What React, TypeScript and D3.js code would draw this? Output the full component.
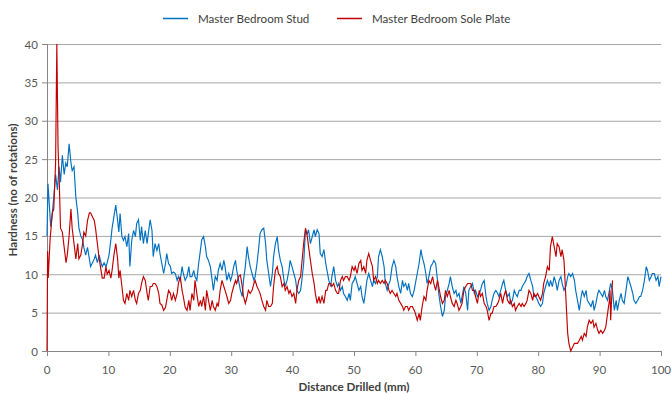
import React from "react";
import * as d3 from "d3";

const seriesNames = ["Master Bedroom Stud", "Master Bedroom Sole Plate"];
const xTicks = [0, 10, 20, 30, 40, 50, 60, 70, 80, 90, 100];
const yTicks = [0, 5, 10, 15, 20, 25, 30, 35, 40];

// [distance mm, hardness]
const studData: [number, number][] = [
  [0,15],[0.16,21.8],[0.6,16.2],[0.87,18],[1.1,20],[1.4,23],[1.7,21],[1.96,24],[2.2,22],[2.5,25.5],[2.8,23],[3.05,24.5],[3.3,24],[3.6,27],[3.9,24.5],[4.1,23.5],[4.4,24],[4.7,20],[5.0,18],[5.2,16],[5.5,15],[5.8,14.5],[6.0,13.5],[6.3,12.5],[6.6,13.5],[6.9,12],[7.1,11],[7.4,11.5],[7.7,12],[7.9,12.5],[8.2,11.5],[8.5,12.5],[8.8,11.5],[9.0,11],[9.3,11.5],[9.6,11],[9.8,11.5],[10.1,12.5],[10.4,14.5],[10.6,16],[10.9,17.5],[11.2,19],[11.5,17],[11.7,15.5],
  [11.9,17.9],[12.2,14.9],[12.45,14.4],[12.7,14.9],[13.0,13.6],[13.3,15.3],[13.5,11],[13.8,14.4],[14.1,15.7],[14.4,14.9],[14.6,16.6],[14.9,17.1],[15.2,14.4],[15.4,16.2],[15.7,14],[16.0,15.7],[16.3,14],[16.5,15.3],[16.8,17.1],[17.1,15.7],[17.3,12.3],[17.6,14],[17.9,13.1],[18.2,14],[18.4,12.7],[18.7,11.4],[19.0,10.1],[19.3,11.4],[19.5,12.7],[19.8,11.4],[20.1,11],[20.3,10.1],[20.6,10.3],[20.9,10.1],[21.2,9.2],[21.4,9.7],[21.7,9.2],[22.0,11],[22.2,10.1],[22.5,9.2],[22.8,9.7],[23.1,11],[23.3,9.7],[23.6,9.7],[23.9,10.5],
  [24.1,9.7],[24.4,9.2],[24.7,11.4],[25.0,13.2],[25.2,14.5],[25.5,14.9],[25.8,13.6],[26.0,12.3],[26.3,11.8],[26.6,11.0],[26.9,9.2],[27.1,7.9],[27.4,9.7],[27.7,9.2],[27.9,10.5],[28.2,11.4],[28.5,10.5],[28.8,11.8],[29.0,11.0],[29.3,9.2],[29.6,10.1],[29.9,9.2],[30.1,9.7],[30.4,11.0],[30.7,11.8],[30.9,10.5],[31.2,9.2],[31.5,7.9],[31.8,7.1],[32.0,9.2],[32.3,11.0],[32.6,13.6],[32.8,12.3],[33.1,11.0],[33.4,10.1],[33.7,9.2],[33.9,9.7],[34.2,11.4],[34.5,13.6],[34.7,15.3],[35.0,15.8],[35.3,16.0],[35.6,14.0],[35.8,11.8],[36.1,10.1],
  [36.4,8.4],[36.7,10.1],[36.9,12.3],[37.2,14.0],[37.5,14.9],[37.7,13.2],[38.0,11.8],[38.3,11.0],[38.6,9.2],[38.8,8.4],[39.1,9.2],[39.4,10.5],[39.6,11.8],[39.9,11.0],[40.2,10.1],[40.5,9.2],[40.7,7.9],[41.0,7.5],[41.3,7.9],[41.5,9.2],[41.8,11.4],[42.1,15.8],[42.4,15.3],[42.6,15.8],[42.9,14.0],[43.2,14.9],[43.5,15.8],[43.7,14.9],[44.0,15.8],[44.3,15.3],[44.5,12.7],[44.8,12.3],[45.1,13.2],[45.4,11.4],[45.6,10.5],[45.9,9.2],[46.2,8.4],[46.4,9.7],[46.7,11.0],[47.0,9.2],[47.3,8.4],[47.5,8.8],[47.8,7.9],[48.1,8.4],[48.3,7.5],
  [48.6,7.1],[48.9,6.6],[49.2,7.5],[49.4,6.6],[49.7,8.8],[50.0,9.2],[50.2,9.7],[50.5,8.8],[50.8,7.9],[51.1,8.4],[51.3,7.1],[51.6,6.2],[51.9,7.9],[52.1,9.2],[52.4,10.1],[52.7,9.2],[53.0,8.4],[53.2,9.2],[53.5,8.8],[53.8,9.7],[54.0,12.3],[54.3,13.2],[54.6,12.3],[54.9,11.0],[55.1,8.8],[55.4,7.9],[55.7,8.8],[55.9,9.2],[56.2,11.0],[56.5,11.8],[56.8,11.0],[57.0,9.7],[57.3,8.4],[57.6,7.5],[57.9,9.2],[58.1,8.4],[58.4,8.8],[58.7,7.9],[58.9,8.8],[59.2,7.5],[59.5,7.1],[59.8,7.9],[60.0,8.8],[60.3,10.1],[60.6,11.4],
  [60.9,13.2],[61.1,12.3],[61.4,11.4],[61.7,10.1],[61.9,8.8],[62.2,9.7],[62.5,11.0],[62.8,11.4],[63.0,11.8],[63.3,11.4],[63.6,9.2],[63.8,7.5],[64.1,5.8],[64.4,4.5],[64.7,5.3],[64.9,7.1],[65.2,7.9],[65.5,8.8],[65.7,9.7],[66.0,8.4],[66.3,7.5],[66.6,7.9],[66.8,7.1],[67.1,7.5],[67.4,6.2],[67.6,7.1],[67.9,8.4],[68.2,7.5],[68.5,5.3],[68.7,7.9],[69.0,8.4],[69.3,8.8],[69.6,7.5],[69.8,7.9],[70.1,7.1],[70.4,7.5],[70.6,7.9],[70.9,8.8],[71.2,9.2],[71.5,7.1],[71.7,6.2],[72.0,5.3],[72.3,5.8],[72.5,6.6],[72.8,7.5],
  [73.1,7.9],[73.4,7.5],[73.6,7.1],[73.9,7.9],[74.2,8.8],[74.4,9.2],[74.7,7.9],[75.0,7.1],[75.3,7.5],[75.5,6.2],[75.8,6.6],[76.1,7.9],[76.3,7.5],[76.6,7.1],[76.9,7.9],[77.2,7.9],[77.4,8.4],[77.7,8.8],[78.0,9.2],[78.2,9.7],[78.5,10.1],[78.8,9.2],[79.1,8.4],[79.3,7.1],[79.6,7.1],[79.9,6.6],[80.1,6.2],[80.4,5.8],[80.7,6.2],[80.9,7.5],[81.2,8.4],[81.5,9.2],[81.8,8.4],[82.0,9.2],[82.3,8.4],[82.6,9.7],[82.9,8.8],[83.1,7.9],[83.4,9.2],[83.7,9.7],[83.9,8.8],[84.2,7.9],[84.5,8.4],[84.8,9.7],[85.0,10.1],
  [85.3,9.7],[85.6,10.1],[85.9,9.2],[86.1,7.9],[86.4,6.6],[86.7,5.3],[87.0,7.1],[87.2,7.9],[87.5,7.1],[87.8,7.9],[88.0,6.6],[88.3,6.2],[88.6,5.8],[88.9,6.6],[89.1,5.3],[89.4,6.2],[89.7,7.5],[89.9,7.9],[90.2,7.5],[90.5,7.1],[90.8,7.9],[91.0,7.1],[91.3,6.6],[91.6,7.9],[91.8,8.8],[92.1,7.9],[92.4,5.3],[92.7,6.6],[92.9,5.3],[93.2,6.6],[93.5,7.5],[93.7,6.6],[94.0,6.2],[94.3,7.9],[94.6,9.7],[94.8,9.2],[95.1,8.4],[95.4,7.5],[95.6,6.6],[95.9,6.2],[96.2,6.6],[96.5,7.1],[96.7,7.1],[97.0,7.9],[97.3,9.2],[97.6,11.0],[97.8,10.5],[98.1,9.2],[98.4,9.7],[98.6,10.1],[98.9,10.1],[99.2,9.2],[99.5,9.7],[99.7,8.4],[100,9.7]
];

const plateData: [number, number][] = [
  [0,0],[0.1,13],[0.2,9.5],[0.35,12],[0.5,14.5],[0.87,18],[1.1,18.5],[1.4,24.5],[1.6,40],[1.8,26.5],[2.0,22],[2.2,16],[2.5,15.5],[2.8,13.5],[3.1,11.5],[3.3,12.5],[3.6,15],[3.9,18.5],[4.1,16],[4.4,14],[4.7,12],[5.0,14],[5.2,12],[5.5,12.5],[5.8,14],[6.0,15.5],[6.3,15],[6.6,17],[6.9,18],[7.1,18],[7.4,17.5],[7.7,17],[7.9,16],[8.2,14],[8.5,12],[8.8,10.5],[9.0,9.5],[9.3,9.5],[9.6,11],[9.8,10],[10.1,10.5],[10.4,9.5],[10.6,10.5],[10.9,12.5],[11.2,14],[11.5,12],[11.7,9.5],
  [11.9,10.5],[12.2,8.4],[12.45,6.6],[12.7,6.2],[13.0,7.5],[13.3,6.6],[13.5,7.9],[13.8,7.1],[14.1,7.9],[14.4,6.6],[14.6,6.2],[14.9,7.5],[15.2,7.9],[15.4,8.8],[15.7,9.7],[16.0,9.2],[16.3,7.5],[16.5,6.6],[16.8,8.4],[17.1,8.4],[17.3,8.8],[17.6,8.8],[17.9,8.4],[18.2,7.5],[18.4,6.2],[18.7,6.0],[19.0,5.3],[19.3,5.7],[19.5,6.6],[19.8,7.9],[20.1,7.5],[20.3,6.6],[20.6,7.5],[20.9,6.6],[21.2,7.5],[21.4,8.8],[21.7,9.7],[22.0,7.9],[22.2,7.1],[22.5,5.7],[22.8,5.3],[23.1,6.6],[23.3,5.3],[23.6,7.5],[23.9,6.6],
  [24.1,9.2],[24.4,7.5],[24.7,5.8],[25.0,6.6],[25.2,5.8],[25.5,7.1],[25.8,5.3],[26.0,7.9],[26.3,6.6],[26.6,5.3],[26.9,6.6],[27.1,5.8],[27.4,5.3],[27.7,6.2],[27.9,5.8],[28.2,7.9],[28.5,9.2],[28.8,8.4],[29.0,7.9],[29.3,7.1],[29.6,6.2],[29.9,6.6],[30.1,7.5],[30.4,8.4],[30.7,9.2],[30.9,8.8],[31.2,9.7],[31.5,9.9],[31.8,8.4],[32.0,7.1],[32.3,6.2],[32.6,7.1],[32.8,7.9],[33.1,7.5],[33.4,7.9],[33.7,8.8],[33.9,9.2],[34.2,8.4],[34.5,7.9],[34.7,7.5],[35.0,6.6],[35.3,5.8],[35.6,5.3],[35.8,6.6],[36.1,5.8],
  [36.4,5.8],[36.7,6.2],[36.9,8.4],[37.2,10.5],[37.5,11.0],[37.7,10.1],[38.0,9.7],[38.3,8.4],[38.6,8.8],[38.8,7.9],[39.1,8.4],[39.4,7.5],[39.6,7.9],[39.9,7.1],[40.2,7.5],[40.5,6.2],[40.7,7.9],[41.0,9.2],[41.3,9.7],[41.5,11.4],[41.8,14.0],[42.1,16.0],[42.4,14.9],[42.6,13.6],[42.9,11.8],[43.2,10.1],[43.5,8.8],[43.7,7.5],[44.0,6.2],[44.3,7.1],[44.5,6.2],[44.8,7.1],[45.1,6.2],[45.4,7.9],[45.6,7.9],[45.9,8.8],[46.2,8.8],[46.4,8.4],[46.7,8.8],[47.0,7.9],[47.3,7.5],[47.5,7.5],[47.8,9.2],[48.1,9.7],[48.3,9.2],
  [48.6,9.7],[48.9,9.7],[49.2,9.2],[49.4,9.7],[49.7,11.0],[50.0,10.5],[50.2,11.0],[50.5,10.1],[50.8,11.4],[51.1,11.8],[51.3,10.5],[51.6,11.0],[51.9,10.1],[52.1,11.8],[52.4,12.7],[52.7,11.8],[53.0,11.0],[53.2,9.2],[53.5,9.7],[53.8,8.8],[54.0,9.2],[54.3,8.8],[54.6,9.2],[54.9,8.8],[55.1,9.2],[55.4,8.8],[55.7,7.9],[55.9,7.5],[56.2,7.9],[56.5,7.5],[56.8,7.1],[57.0,7.5],[57.3,6.6],[57.6,6.2],[57.9,5.8],[58.1,5.3],[58.4,5.8],[58.7,5.8],[58.9,5.3],[59.2,5.8],[59.5,5.8],[59.8,5.3],[60.0,4.9],[60.3,4.0],[60.6,4.9],[60.8,4.0],
  [61.1,5.8],[61.4,7.1],[61.7,6.6],[61.9,7.9],[62.2,9.2],[62.5,8.8],[62.8,9.7],[63.0,8.8],[63.3,7.9],[63.6,9.2],[63.8,8.4],[64.1,7.1],[64.4,6.2],[64.7,6.6],[64.9,7.9],[65.2,7.1],[65.5,7.9],[65.7,7.1],[66.0,6.2],[66.3,5.8],[66.6,6.6],[66.8,6.2],[67.1,5.3],[67.4,5.8],[67.6,6.2],[67.9,7.9],[68.2,8.4],[68.5,8.8],[68.7,8.8],[69.0,8.8],[69.3,7.9],[69.6,7.9],[69.8,7.1],[70.1,6.2],[70.4,7.9],[70.6,7.1],[70.9,7.5],[71.2,6.2],[71.5,5.8],[71.7,5.3],[72.0,4.0],[72.3,4.9],[72.5,4.9],[72.8,5.8],
  [73.1,5.8],[73.4,6.2],[73.6,6.6],[73.9,7.5],[74.2,6.2],[74.4,7.1],[74.7,7.9],[75.0,6.6],[75.3,6.2],[75.5,6.6],[75.8,5.8],[76.1,6.2],[76.3,5.3],[76.6,5.8],[76.9,6.2],[77.2,5.8],[77.4,6.2],[77.7,5.8],[78.0,6.2],[78.2,6.6],[78.5,7.9],[78.8,7.5],[79.1,6.6],[79.3,7.5],[79.6,7.1],[79.9,7.5],[80.1,7.1],[80.4,6.6],[80.7,7.5],[80.9,8.8],[81.2,9.7],[81.5,11.0],[81.8,10.5],[82.0,13.6],[82.3,14.9],[82.6,13.6],[82.9,12.3],[83.1,14.0],[83.4,13.6],[83.7,12.3],[83.9,13.2],[84.2,11.8],[84.5,7.1],[84.8,2.3],[85.0,1.0],
  [85.3,0],[85.6,0.5],[85.9,1.0],[86.1,1.0],[86.4,1.0],[86.7,1.4],[87.0,1.9],[87.2,1.4],[87.5,2.3],[87.8,1.9],[88.0,3.1],[88.3,4.0],[88.6,3.6],[88.9,4.0],[89.1,3.1],[89.4,3.6],[89.7,2.7],[89.9,2.3],[90.2,2.7],[90.5,2.3],[90.8,2.7],[91.0,3.1],[91.3,4.9],[91.6,6.6],[91.7,7.9],[91.8,4.0],[92.1,9.2]
];

const colors = ["#0070C0", "#C00000"];

const W = 671, H = 394;
const M = { left: 47, right: 661, top: 44, bottom: 351 };

export default function App() {
  const x = d3.scaleLinear().domain([0, 100]).range([M.left, M.right]);
  const y = d3.scaleLinear().domain([0, 40]).range([M.bottom, M.top]);
  const line = d3.line<[number, number]>().x(d => x(d[0])).y(d => y(d[1]));
  const font = "Lato, 'Open Sans', sans-serif";
  const series = [studData, plateData];
  const legendX = [163, 337];
  const fs = 11.6;

  return (
    <svg width={W} height={H} style={{ position: "absolute", left: 0, top: 0, background: "#fff" }} fontFamily={font}>
      {yTicks.filter(t => t > 0).map(t => (
        <line key={"g" + t} x1={M.left} x2={M.right} y1={y(t) + 0.5} y2={y(t) + 0.5} stroke="#A6A6A6" strokeWidth={1} />
      ))}
      <line x1={M.left + 0.5} x2={M.left + 0.5} y1={M.top} y2={M.bottom} stroke="#868686" />
      <line x1={M.left} x2={M.right} y1={M.bottom + 0.5} y2={M.bottom + 0.5} stroke="#868686" />
      {yTicks.map(t => (
        <g key={"y" + t}>
          <line x1={M.left - 5} x2={M.left} y1={y(t) + 0.5} y2={y(t) + 0.5} stroke="#868686" />
          <text x={38} y={y(t) + 4.5} textAnchor="end" fontSize={fs} fill="#595959">{t}</text>
        </g>
      ))}
      {xTicks.map(t => (
        <g key={"x" + t}>
          <line x1={x(t) + 0.5} x2={x(t) + 0.5} y1={M.bottom} y2={M.bottom + 5} stroke="#868686" />
          <text x={x(t)} y={374} textAnchor="middle" fontSize={fs} fill="#595959">{t}</text>
        </g>
      ))}
      {series.map((s, i) => (
        <path key={"s" + i} d={line(s) || ""} fill="none" stroke={colors[i]} strokeWidth={1.15} strokeLinejoin="miter" />
      ))}
      <text x={354} y={391} textAnchor="middle" fontSize={fs} fontWeight="bold" fill="#404040">Distance Drilled (mm)</text>
      <text transform={`translate(17,${190}) rotate(-90)`} textAnchor="middle" fontSize={fs} fontWeight="bold" fill="#404040">Hardness (no of rotations)</text>
      {seriesNames.map((n, i) => (
        <g key={"l" + i}>
          <line x1={legendX[i]} x2={legendX[i] + 25} y1={18.5} y2={18.5} stroke={colors[i]} strokeWidth={1.5} />
          <text x={legendX[i] + 35} y={22.5} fontSize={fs} fill="#404040">{n}</text>
        </g>
      ))}
    </svg>
  );
}
